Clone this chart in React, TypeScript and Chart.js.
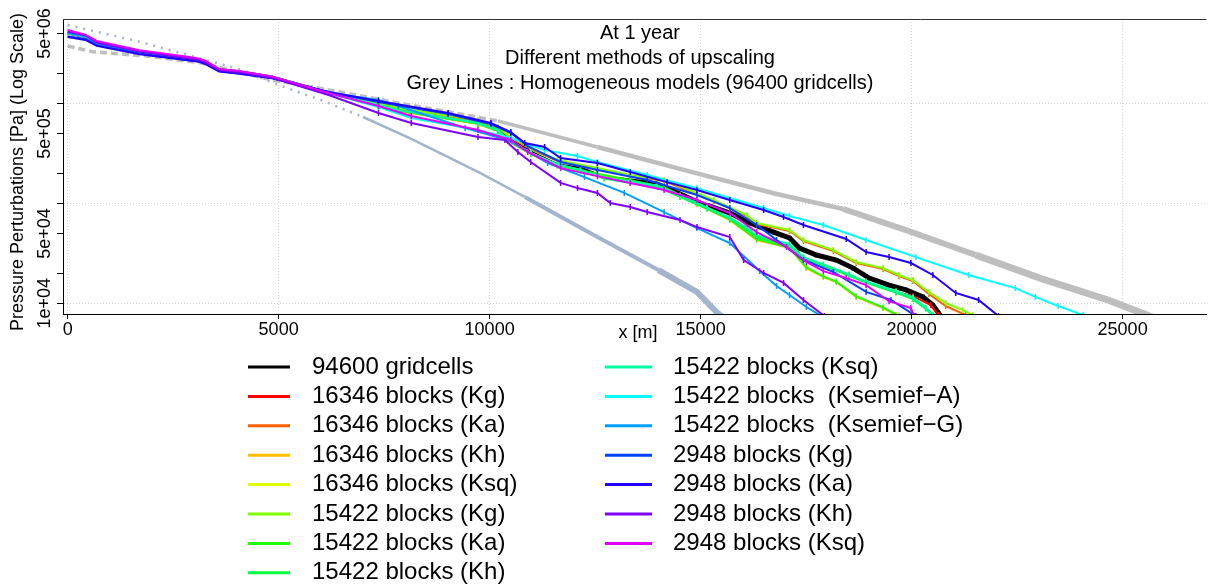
import React, { useEffect, useRef } from "react";
import { Chart, registerables } from "chart.js";

Chart.register(...registerables);

const FONT = '"Liberation Sans", Arial, Helvetica, sans-serif';

// ---- axes / text ----
const xTicks = [0, 5000, 10000, 15000, 20000, 25000];
const yTicks = [1e4, 2e4, 5e4, 1e5, 2e5, 5e5, 1e6, 2e6, 5e6];
const yGridValues = [1e4, 1e5, 1e6];
const yLabelValues = [1e4, 5e4, 5e5, 5e6];
const yLabelTexts = ["1e+04", "5e+04", "5e+05", "5e+06"];
const titleLines = [
  "At 1 year",
  "Different methods of upscaling",
  "Grey Lines : Homogeneous models (96400 gridcells)",
];
const xTitle = "x [m]";
const yTitle = "Pressure Perturbations [Pa] (Log Scale)";

const legendNames = [
  "94600 gridcells",
  "16346 blocks (Kg)",
  "16346 blocks (Ka)",
  "16346 blocks (Kh)",
  "16346 blocks (Ksq)",
  "15422 blocks (Kg)",
  "15422 blocks (Ka)",
  "15422 blocks (Kh)",
  "15422 blocks (Ksq)",
  "15422 blocks  (Ksemief\u2212A)",
  "15422 blocks  (Ksemief\u2212G)",
  "2948 blocks (Kg)",
  "2948 blocks (Ka)",
  "2948 blocks (Kh)",
  "2948 blocks (Ksq)",
];
const seriesColors = [
  "#000000", "#FF0000", "#FF6000", "#FFBF00", "#DFFF00", "#80FF00", "#20FF00",
  "#00FF40", "#00FF9F", "#00FFFF", "#009FFF", "#0040FF", "#2000FF", "#8000FF", "#DF00FF",
];

// ---- shared early bundle (all upscaled curves overlap there) ----
const bundleX = [0, 420, 690, 1705, 2886, 3120, 3277, 3592, 4063, 4842, 6186];
const bundleY = [5.05e6, 4.67e6, 3.98e6, 3.29e6, 2.81e6, 2.71e6, 2.55e6, 2.15e6, 2.07e6, 1.83e6, 1.27e6];

// ---- 94600 gridcells ----
const fineX = [7366, 7837, 9017, 9724, 10196, 10432, 10974, 11611, 12153, 12719, 13333, 13970, 14512, 15149, 15691, 16163, 16729, 17106, 17342, 17743, 18215, 18616, 18993, 19465, 19866, 20267, 20502, 20691];
const fineY = [9.84e5, 8.57e5, 7.13e5, 6.35e5, 5.41e5, 4.5e5, 3.26e5, 2.42e5, 2.25e5, 1.83e5, 1.71e5, 1.6e5, 1.27e5, 9.62e4, 8.0e4, 6.35e4, 5.16e4, 4.5e4, 3.57e4, 3.04e4, 2.71e4, 2.25e4, 1.79e4, 1.52e4, 1.36e4, 1.16e4, 9.62e3, 7.46e3];

// ---- 16346 blocks ----
const b16KgX = [7366, 7837, 9724, 10196, 10432, 10974, 11611, 12153, 12719, 13333, 13970, 14512, 15149, 15691, 16092, 16328, 17106, 17437, 17908, 18522, 18922, 19630, 20031, 20455, 20644];
const b16KgY = [9.62e5, 8.57e5, 6.35e5, 5.41e5, 4.3e5, 3.18e5, 2.42e5, 2.15e5, 1.79e5, 1.63e5, 1.49e5, 1.18e5, 8.97e4, 7.13e4, 5.66e4, 4.71e4, 3.83e4, 2.84e4, 2.42e4, 1.92e4, 1.63e4, 1.3e4, 1.18e4, 9.62e3, 7.64e3];
const b16KaX = [7366, 7837, 9724, 10196, 10432, 10974, 11611, 12554, 13333, 14135, 15314, 16092, 16328, 17106, 17437, 18144, 18687, 19324, 19700, 20031, 20409, 20809, 21281];
const b16KaY = [9.84e5, 8.77e5, 6.65e5, 5.66e5, 4.71e5, 3.49e5, 2.65e5, 2.2e5, 1.87e5, 1.67e5, 1.05e5, 7.46e4, 6.21e4, 5.28e4, 4.2e4, 3.33e4, 2.53e4, 2.2e4, 1.87e4, 1.67e4, 1.24e4, 9.4e3, 7.64e3];
const b16KhX = [7366, 7837, 9724, 10196, 10432, 10974, 11611, 12554, 13333, 14135, 14913, 15691, 16328, 17106, 17507, 17908, 18215, 18687, 19324, 19630];
const b16KhY = [9.4e5, 8.37e5, 6.21e5, 5.28e5, 4.2e5, 3.11e5, 2.36e5, 1.96e5, 1.67e5, 1.42e5, 9.84e4, 6.81e4, 4.3e4, 3.57e4, 2.25e4, 1.83e4, 1.63e4, 1.16e4, 8.97e3, 7.64e3];
const b16KsqX = [7366, 7837, 9724, 10196, 10432, 10974, 11611, 12153, 12719, 13333, 13970, 14512, 15149, 15691, 16092, 16328, 17106, 17437, 17908, 18522, 18922, 19630, 20031, 20338, 20502];
const b16KsqY = [9.62e5, 8.57e5, 6.35e5, 5.41e5, 4.3e5, 3.18e5, 2.42e5, 2.15e5, 1.79e5, 1.63e5, 1.49e5, 1.18e5, 8.97e4, 7.13e4, 5.66e4, 4.71e4, 3.83e4, 2.84e4, 2.42e4, 1.92e4, 1.63e4, 1.3e4, 1.13e4, 8.97e3, 7.64e3];

// ---- 15422 blocks ----
const b15KgX = [7366, 7837, 9724, 10196, 10432, 10974, 11611, 12554, 13333, 14135, 15314, 16092, 16328, 17106, 17437, 18144, 18687, 19324, 19700, 20031, 20409, 20809, 21210, 21446];
const b15KgY = [1.007e6, 8.97e5, 6.81e5, 5.79e5, 4.82e5, 3.57e5, 2.71e5, 2.25e5, 1.92e5, 1.71e5, 1.08e5, 7.64e4, 6.35e4, 5.41e4, 4.3e4, 3.41e4, 2.59e4, 2.25e4, 1.92e4, 1.71e4, 1.3e4, 1.007e4, 8.57e3, 7.64e3];
const b15KaX = [7366, 7837, 9724, 10196, 10432, 10974, 11611, 12554, 13333, 14135, 14913, 15691, 16328, 17106, 17507, 17908, 18215, 18687, 19324, 19700];
const b15KaY = [9.5e5, 8.45e5, 6.28e5, 5.35e5, 4.25e5, 3.15e5, 2.4e5, 1.98e5, 1.7e5, 1.45e5, 1.0e5, 6.9e4, 4.4e4, 3.6e4, 2.3e4, 1.86e4, 1.65e4, 1.18e4, 9.1e3, 7.5e3];
const b15KhX = [7366, 7837, 9724, 10196, 10432, 10974, 11611, 12153, 12719, 13333, 13970, 14512, 15149, 15691, 16092, 16328, 17106, 17437, 17908, 18522, 18922, 19630, 20031, 20338, 20502];
const b15KhY = [9.55e5, 8.5e5, 6.3e5, 5.35e5, 4.25e5, 3.15e5, 2.4e5, 2.12e5, 1.77e5, 1.6e5, 1.47e5, 1.16e5, 8.8e4, 7.0e4, 5.5e4, 4.6e4, 3.75e4, 2.8e4, 2.38e4, 1.88e4, 1.6e4, 1.28e4, 1.1e4, 8.8e3, 7.5e3];
const b15KsqX = [7366, 7837, 9724, 10196, 10432, 10974, 11611, 12153, 12719, 13333, 13970, 14512, 15149, 15691, 16092, 16328, 17106, 17437, 17908, 18522, 18922, 19630, 20031, 20338, 20502];
const b15KsqY = [9.7e5, 8.6e5, 6.4e5, 5.45e5, 4.35e5, 3.2e5, 2.45e5, 2.17e5, 1.8e5, 1.65e5, 1.5e5, 1.2e5, 9.1e4, 7.2e4, 5.7e4, 4.8e4, 3.9e4, 2.9e4, 2.45e4, 1.95e4, 1.65e4, 1.32e4, 1.15e4, 9.1e3, 7.7e3];
const b15SemAX = [7366, 8144, 9724, 10502, 11304, 12083, 12554, 13734, 14913, 16493, 17106, 17908, 18922, 20102, 21352, 22460, 22932, 23474, 24064];
const b15SemAY = [9.18e5, 7.13e5, 5.41e5, 4.5e5, 3.41e5, 2.97e5, 2.59e5, 1.92e5, 1.42e5, 8.97e4, 7.46e4, 6.07e4, 4.3e4, 2.9e4, 1.92e4, 1.42e4, 1.16e4, 9.4e3, 7.64e3];
const b15SemGX = [7366, 7837, 9418, 10432, 11375, 12248, 13191, 14135, 14913, 15691, 16399, 16800, 17106, 17507, 17861];
const b15SemGY = [1.08e6, 9.4e5, 5.66e5, 4.3e5, 2.53e5, 1.83e5, 1.27e5, 8.18e4, 5.66e4, 4.01e4, 2.1e4, 1.49e4, 1.21e4, 9.18e3, 7.46e3];

// ---- 2948 blocks (own early values) ----
const b2KgHeadY = [4.7e6, 4.4e6, 3.8e6, 3.15e6, 2.7e6, 2.62e6, 2.48e6, 2.1e6, 2.0e6, 1.8e6, 1.3e6];
const b2KgX = [7366, 9017, 10031, 10502, 10903, 11682, 12554, 13734, 14913, 15691, 16328, 16800, 17437, 18144, 18922, 19512, 20102];
const b2KgY = [1.03e6, 7.81e5, 6.21e5, 5.05e5, 3.74e5, 2.59e5, 2.15e5, 1.71e5, 1.21e5, 8.97e4, 6.07e4, 4.3e4, 2.71e4, 2.06e4, 1.3e4, 1.08e4, 7.46e3];
const b2KaHeadY = [4.6e6, 4.3e6, 3.75e6, 3.1e6, 2.68e6, 2.6e6, 2.45e6, 2.08e6, 1.98e6, 1.78e6, 1.3e6];
const b2KaX = [7366, 9017, 10031, 10502, 10833, 11304, 11682, 12554, 13333, 14205, 14913, 15691, 16493, 16965, 17437, 18451, 18922, 19465, 19984, 20502, 21045, 21587, 22059];
const b2KaY = [1.054e6, 8.0e5, 6.35e5, 5.16e5, 4.01e5, 3.66e5, 2.84e5, 2.53e5, 2.06e5, 1.63e5, 1.36e5, 1.08e5, 8.57e4, 7.29e4, 6.07e4, 4.4e4, 3.26e4, 2.9e4, 2.53e4, 1.92e4, 1.27e4, 1.08e4, 7.46e3];
const b2KhHeadY = [5.2e6, 4.8e6, 4.05e6, 3.3e6, 2.8e6, 2.7e6, 2.55e6, 2.15e6, 2.05e6, 1.8e6, 1.21e6];
const b2KhX = [7366, 8144, 9724, 10361, 10668, 10974, 11682, 12083, 12554, 12861, 13333, 13734, 14512, 14913, 15691, 16021, 16493, 16965, 17437, 17932];
const b2KhY = [8.0e5, 6.35e5, 4.6e5, 4.3e5, 3.26e5, 2.59e5, 1.6e5, 1.42e5, 1.27e5, 1.007e5, 9.18e4, 8.18e4, 6.81e4, 5.79e4, 4.6e4, 2.71e4, 2.01e4, 1.6e4, 1.08e4, 7.46e3];
const b2KsqHeadY = [5.4e6, 4.85e6, 4.2e6, 3.4e6, 2.9e6, 2.8e6, 2.65e6, 2.2e6, 2.1e6, 1.86e6, 1.27e6];
const b2KsqX = [7366, 8144, 9724, 10502, 10903, 11682, 12554, 13333, 14135, 14913, 15691, 16328, 17035, 17507, 17908, 18451, 18922, 19465, 19984, 20058];
const b2KsqY = [9.4e5, 7.46e5, 5.41e5, 4.3e5, 3.26e5, 2.25e5, 1.87e5, 1.6e5, 1.36e5, 1.08e5, 8.0e4, 5.16e4, 3.66e4, 2.59e4, 2.1e4, 1.79e4, 1.52e4, 1.05e4, 8.97e3, 7.46e3];

// ---- homogeneous models (grey lines) ----
const homGreyX = [0, 597, 1941, 3120, 4842, 6422, 7837, 8781, 10196, 12554, 14913, 16800, 18380, 19937, 21517, 23097, 24654, 25456, 25880];
const homGreyY = [3.74e6, 3.28e6, 2.95e6, 2.55e6, 1.71e6, 1.31e6, 1.007e6, 8.57e5, 6.65e5, 3.66e5, 1.99e5, 1.24e5, 8.77e4, 5.28e4, 3.04e4, 1.75e4, 1.08e4, 8.0e3, 6.8e3];
const homSteelX = [0, 1705, 4063, 5007, 6000, 7000, 8144, 9724, 10835, 12554, 14000, 14913, 15400, 15700];
const homSteelY = [6.07e6, 4.13e6, 2.2e6, 1.52e6, 1.08e6, 7.3e5, 4.4e5, 2.06e5, 1.16e5, 4.6e4, 2.15e4, 1.3e4, 8.0e3, 6.5e3];

const zip = (xs: number[], ys: number[]) => xs.map((x, i) => ({ x, y: ys[i] }));

export default function App() {
  const ref = useRef<HTMLCanvasElement | null>(null);

  useEffect(() => {
    const canvas = ref.current;
    if (!canvas) return;

    const upscaled = [
      [[...bundleX, ...fineX], [...bundleY, ...fineY]],
      [[...bundleX, ...b16KgX], [...bundleY, ...b16KgY]],
      [[...bundleX, ...b16KaX], [...bundleY, ...b16KaY]],
      [[...bundleX, ...b16KhX], [...bundleY, ...b16KhY]],
      [[...bundleX, ...b16KsqX], [...bundleY, ...b16KsqY]],
      [[...bundleX, ...b15KgX], [...bundleY, ...b15KgY]],
      [[...bundleX, ...b15KaX], [...bundleY, ...b15KaY]],
      [[...bundleX, ...b15KhX], [...bundleY, ...b15KhY]],
      [[...bundleX, ...b15KsqX], [...bundleY, ...b15KsqY]],
      [[...bundleX, ...b15SemAX], [...bundleY, ...b15SemAY]],
      [[...bundleX, ...b15SemGX], [...bundleY, ...b15SemGY]],
      [[...bundleX, ...b2KgX], [...b2KgHeadY, ...b2KgY]],
      [[...bundleX, ...b2KaX], [...b2KaHeadY, ...b2KaY]],
      [[...bundleX, ...b2KhX], [...b2KhHeadY, ...b2KhY]],
      [[...bundleX, ...b2KsqX], [...b2KsqHeadY, ...b2KsqY]],
    ];

    const datasets: any[] = upscaled.map(([xs, ys], i) => {
      const color = seriesColors[i];
      const isFine = i === 0;
      return {
        label: legendNames[i],
        data: zip(xs as number[], ys as number[]),
        borderColor: color,
        backgroundColor: color,
        borderWidth: isFine ? 3 : 2,
        pointStyle: isFine ? "rect" : "line",
        pointRotation: isFine ? 0 : 90,
        pointRadius: (c: any) =>
          isFine ? (c.raw && c.raw.x > 15000 ? 3 : 0) : c.raw && c.raw.x > 7000 ? 3 : 0,
        pointBorderWidth: isFine ? 0 : 1.5,
        pointBorderColor: color,
        pointBackgroundColor: color,
        segment: isFine
          ? { borderWidth: (c: any) => ((xs as number[])[c.p1DataIndex] > 15500 ? 5 : 3) }
          : undefined,
        tension: 0,
        fill: false,
        clip: 0,
        order: 20 - i,
      };
    });

    datasets.push({
      label: "homogeneous A",
      data: zip(homGreyX, homGreyY),
      borderColor: "#BEBEBE",
      backgroundColor: "#BEBEBE",
      borderWidth: 3,
      pointRadius: 0,
      tension: 0,
      fill: false,
      clip: 0,
      order: 40,
      segment: {
        borderWidth: (c: any) => {
          const x = homGreyX[c.p1DataIndex];
          return x > 23000 ? 7 : x > 19000 ? 6 : x > 13000 ? 4.5 : 3.5;
        },
        borderDash: (c: any) => (homGreyX[c.p1DataIndex] <= 10196 ? [7, 4] : []),
      },
    });
    datasets.push({
      label: "homogeneous B",
      data: zip(homSteelX, homSteelY),
      borderColor: "#A2B5CD",
      backgroundColor: "#A2B5CD",
      borderWidth: 2.5,
      pointRadius: 0,
      tension: 0,
      fill: false,
      clip: 0,
      order: 39,
      segment: {
        borderWidth: (c: any) => {
          const x = homSteelX[c.p1DataIndex];
          return x > 14000 ? 6 : x > 12000 ? 4 : 2.5;
        },
        borderDash: (c: any) => (homSteelX[c.p1DataIndex] <= 7000 ? [2, 6] : []),
      },
    });

    const deco = {
      id: "deco",
      afterDraw(chart: any) {
        const ctx = chart.ctx;
        const { left, right, top } = chart.chartArea;
        ctx.save();
        ctx.strokeStyle = "#333";
        ctx.lineWidth = 1;
        ctx.beginPath();
        ctx.moveTo(left, top + 0.5);
        ctx.lineTo(right, top + 0.5);
        ctx.stroke();

        ctx.fillStyle = "#000";
        ctx.textAlign = "center";
        ctx.textBaseline = "middle";
        ctx.font = `20px ${FONT}`;
        titleLines.forEach((t, i) => ctx.fillText(t, 640, 33 + i * 25));

        ctx.font = `18px ${FONT}`;
        ctx.fillText(xTitle, 638, 333);

        const ys = chart.scales.y;
        yLabelValues.forEach((v, i) => {
          const py = ys.getPixelForValue(v);
          ctx.save();
          ctx.translate(45, py);
          ctx.rotate(-Math.PI / 2);
          ctx.fillText(yLabelTexts[i], 0, 0);
          ctx.restore();
        });

        ctx.save();
        ctx.translate(18, 172);
        ctx.rotate(-Math.PI / 2);
        ctx.fillText(yTitle, 0, 0);
        ctx.restore();

        ctx.font = `24px ${FONT}`;
        ctx.textAlign = "left";
        ctx.lineWidth = 3;
        legendNames.forEach((name, i) => {
          const col = i < 8 ? 0 : 1;
          const row = i < 8 ? i : i - 8;
          const ly = 367 + row * 29.4;
          const x0 = col ? 605 : 248;
          const x1 = col ? 652 : 290;
          const tx = col ? 673 : 312;
          ctx.strokeStyle = seriesColors[i];
          ctx.beginPath();
          ctx.moveTo(x0, ly);
          ctx.lineTo(x1, ly);
          ctx.stroke();
          ctx.fillStyle = "#000";
          ctx.fillText(name, tx, ly);
        });
        ctx.restore();
      },
    };

    const chart = new Chart(canvas, {
      type: "line",
      data: { datasets },
      options: {
        responsive: false,
        animation: false,
        devicePixelRatio: 1,
        events: [],
        layout: { padding: { top: 19, left: 0, right: 0, bottom: 0 } },
        plugins: {
          legend: { display: false },
          title: { display: false },
          tooltip: { enabled: false },
        },
        scales: {
          x: {
            type: "linear",
            position: "bottom",
            min: -110,
            max: 26988,
            afterBuildTicks: (s: any) => {
              s.ticks = xTicks.map((v) => ({ value: v }));
            },
            afterFit: (s: any) => {
              s.height = 272;
              s.paddingLeft = 0;
              s.paddingRight = 0;
            },
            ticks: {
              color: "#000",
              font: { family: FONT, size: 18, lineHeight: 1 },
              padding: 2,
              maxRotation: 0,
              minRotation: 0,
              autoSkip: false,
              callback: (v: any) => String(v),
            },
            grid: {
              color: "#D3D3D3",
              lineWidth: 1,
              drawTicks: true,
              tickLength: 5,
              tickColor: "#000",
              tickWidth: 1,
            },
            border: { display: true, color: "#000", width: 1, dash: [1, 2] },
          },
          y: {
            type: "logarithmic",
            position: "left",
            min: 7820,
            max: 6.97e6,
            afterBuildTicks: (s: any) => {
              s.ticks = yTicks.map((v) => ({ value: v }));
            },
            afterFit: (s: any) => {
              s.width = 63;
              s.paddingTop = 0;
              s.paddingBottom = 0;
            },
            ticks: { display: false },
            grid: {
              color: (c: any) =>
                c.tick && yGridValues.includes(c.tick.value) ? "#D3D3D3" : "rgba(0,0,0,0)",
              lineWidth: 1,
              drawTicks: true,
              tickLength: 6,
              tickColor: "#000",
              tickWidth: 1,
            },
            border: { display: true, color: "#000", width: 1, dash: [1, 2] },
          },
        },
      } as any,
      plugins: [deco],
    });

    return () => chart.destroy();
  }, []);

  return (
    <div style={{ position: "fixed", left: 0, top: 0, width: 1212, height: 586, background: "#fff" }}>
      <canvas ref={ref} width={1212} height={586} style={{ display: "block", width: 1212, height: 586 }} />
    </div>
  );
}
